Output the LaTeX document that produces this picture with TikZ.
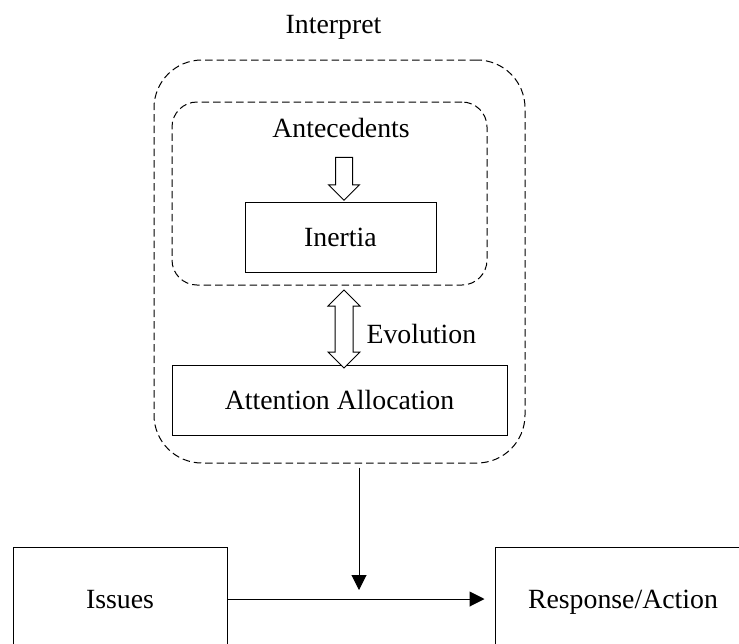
\documentclass[tikz,border=0pt]{standalone}
\usepackage{fontspec}
\setmainfont{Liberation Serif}
\usepackage{tikz}
\usetikzlibrary{shapes,shapes.arrows,arrows,arrows.meta,positioning}

\begin{document}
\begin{tikzpicture}[x=1pt, y=-1pt, font=\fontsize{27.8}{33}\selectfont,
	box/.style={draw, line width=1pt, inner sep=0pt, text height=18.5pt, text depth=0pt},
	group/.style={draw, line width=1pt, dash pattern=on 7.5pt off 4pt, inner sep=0pt},
	hollow/.style={draw, fill=white, line width=1pt, inner xsep=0pt}]
			\useasboundingbox (0,0) rectangle (739,643);
			% Dashed groups
			\node[group, rounded corners=48pt, minimum width=371, minimum height=403] (outer) at (339.5,261.5) {};
			\node[group, rounded corners=25pt, minimum width=315, minimum height=183] (inner) at (329.5,193.5) {};
			\node[anchor=base] (interpret) at (333.5,33) {Interpret};
			\node[anchor=base] (ante) at (341,137) {Antecedents};
			% Boxes
			\node[box, minimum width=191, minimum height=70] (inertia) at (340.5,237) {Inertia};
			\node[box, minimum width=335, minimum height=70] (attention) at (339.5,400) {Attention Allocation};
			\node[box, minimum width=214, minimum height=104] (issues) at (120,599) {Issues};
			\node[box, minimum width=256, minimum height=104] (response) at (623,599) {Response/Action};
			% Hollow arrows
			\node[hollow, single arrow, rotate=-90, minimum height=43, inner ysep=8pt,
				single arrow head extend=7pt] (anteArrow) at (344,174.5) {};
			\node[hollow, double arrow, rotate=90, minimum height=78, inner ysep=8.5pt,
				double arrow head extend=7pt] (evoArrow) at (344,329) {};
			\node[anchor=base west] (evolution) at (363,343) {Evolution};
			% Connectors
			\coordinate (meet) at (359,590);
			\draw[line width=1pt, -{Triangle[length=15pt, width=15pt]}, shorten <=4pt] (outer.south -| meet) -- (meet);
			\draw[line width=1pt, -{Triangle[length=15pt, width=15pt]}, shorten >=10pt] (issues.east) -- (response.west);
\end{tikzpicture}
\end{document}
